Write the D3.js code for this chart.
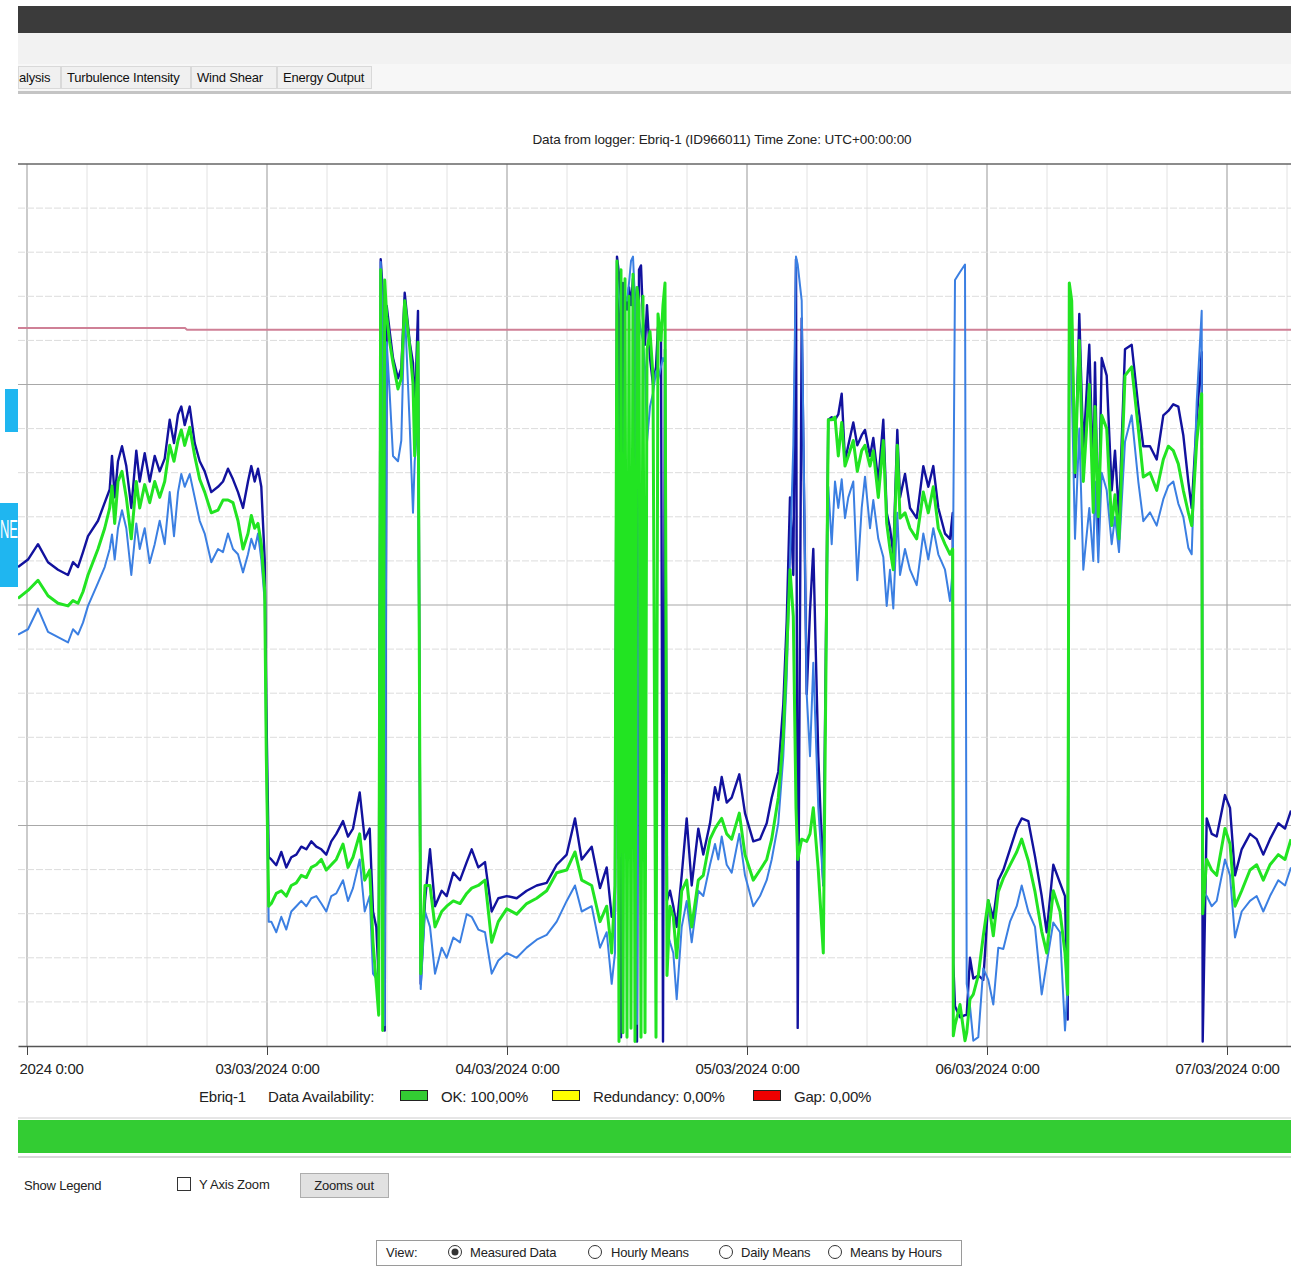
<!DOCTYPE html>
<html><head><meta charset="utf-8">
<script src="https://cdn.jsdelivr.net/npm/d3@7"></script>
<style>
html,body{margin:0;padding:0;background:#fff;}
svg{display:block;font-family:"Liberation Sans",Arial,sans-serif;}
</style></head><body>
<svg id="c" width="1291" height="1275"></svg>
<script>
// ---- DATA (hours after 02/03/2024 00:00 UTC, wind speed values) ----
const hours = [
 -0.9,0.1,1.1,2.1,3.1,4.1,4.6,5.1,5.6,6.1,7.1,7.77,8.27,8.5,8.77,9.1,9.5,9.93,10.43,10.93,11.27,11.77,12.27,12.77,13.27,13.77,14.27,14.7,15.1,15.43,15.77,16.27,16.77,17.27,17.77,18.43,19.1,19.6,20.1,20.6,21.1,21.6,22.1,22.43,22.77,23.1,23.43,23.77,23.93,24.17,
 24.43,24.93,25.43,25.93,26.43,26.93,27.43,27.93,28.43,28.93,29.43,29.93,30.43,30.93,31.6,32.1,32.6,33.27,33.77,34.27,34.6,34.93,35.17,35.37,35.57,35.77,35.97,36.27,36.6,37.1,37.43,37.77,38.27,38.6,38.77,39.1,39.37,
 39.8,40.3,40.8,41.47,41.97,42.63,43.3,43.97,44.47,45.13,45.8,46.47,47.13,47.97,48.97,49.97,50.97,51.97,52.97,53.97,54.8,55.47,56.47,57.3,57.97,58.47,58.8,
 59.0,59.2,59.4,59.6,59.8,60.0,60.2,60.4,60.6,60.8,61.0,61.2,61.4,61.6,61.8,62.0,62.3,62.6,62.9,63.1,63.4,63.6,63.8,64.0,
 64.3,64.63,64.97,65.47,65.97,66.47,67.13,67.63,68.3,68.8,69.13,69.47,69.97,70.47,71.23,71.8,72.63,73.3,73.97,74.47,75.13,75.63,75.97,76.3,76.63,76.9,77.07,77.47,77.97,78.3,78.63,79.13,79.63,
 80.13,80.47,80.8,81.13,81.47,81.8,82.13,82.63,83.03,83.47,83.8,84.3,84.63,85.13,85.63,85.97,86.3,86.63,87.03,87.3,87.8,88.3,88.97,89.63,90.13,90.63,91.13,91.8,92.3,92.57,
 92.63,92.8,93.3,93.8,93.97,94.3,94.63,95.13,95.63,96.13,96.63,97.13,97.63,98.3,98.97,99.47,100.13,100.8,101.47,101.97,102.63,103.3,103.8,104.07,104.23,
 104.47,104.8,105.23,105.63,106.23,106.63,106.8,107.13,107.47,107.97,108.47,108.8,109.2,109.8,110.47,111.13,111.63,112.3,112.97,113.63,114.13,114.63,115.13,115.63,116.13,116.47,116.97,117.47,117.57,
 117.97,118.47,118.97,119.8,120.3,120.8,121.47,122.3,122.97,123.63,124.3,125.13,125.8,126.4
];
const speedNavy = [
 10.86,11.03,11.38,10.97,10.8,10.68,10.97,10.86,11.2,11.56,11.91,12.32,12.62,13.38,12.44,13.26,13.6,13.15,12.2,13.5,12.8,13.44,12.8,13.38,13.03,13.32,14.2,13.67,14.32,14.5,14.08,14.5,13.67,13.26,13.03,12.56,12.68,12.8,13.09,12.85,12.56,12.2,12.8,13.15,12.8,13.09,12.68,11.03,7.75,4.28,
 4.23,4.1,4.4,4.05,4.28,4.34,4.52,4.46,4.64,4.52,4.46,4.34,4.64,4.81,5.1,4.75,4.93,5.75,4.69,4.93,3.05,2.7,1.53,17.84,17.14,0.35,16.78,16.2,15.6,15.14,15.37,17.08,15.96,15.49,14.3,16.67,1.41,
 3.29,4.46,3.17,3.52,3.4,3.93,3.76,4.17,4.46,4.05,4.17,3.05,3.35,3.4,3.35,3.52,3.64,3.7,4.11,4.34,5.16,4.23,4.52,3.58,4.05,2.93,3.05,
 17.9,17.5,0.2,17.3,17.0,16.7,17.2,16.8,17.4,17.0,0.1,17.6,17.7,16.5,15.9,16.8,15.6,15.0,15.4,16.3,16.1,0.1,15.8,3.3,
 3.52,3.17,2.7,3.87,5.16,3.64,4.93,4.34,5.05,5.87,5.58,6.1,5.52,5.63,6.16,5.28,4.64,4.69,5.05,5.63,6.22,7.75,9.62,12.44,10.68,17.84,0.41,16.5,7.98,9.86,11.27,6.57,3.64,
 14.2,14.26,14.2,14.32,14.79,13.26,13.62,14.14,13.62,13.85,13.97,13.38,13.79,12.8,14.2,12.09,11.74,11.15,13.97,12.44,12.97,12.2,11.97,13.15,12.68,13.15,12.2,11.62,11.5,12.09,
 1.88,0.9,0.65,0.7,0.7,2.0,1.53,1.6,1.5,3.3,2.9,3.76,3.99,4.46,4.93,5.16,5.1,4.3,3.4,2.58,4.11,3.7,3.4,0.6,17.25,
 16.5,12.9,16.6,13.5,15.9,12.8,15.5,11.5,15.6,15.2,12.6,13.5,12.0,15.8,15.9,14.5,13.6,13.6,13.3,14.3,14.4,14.55,14.5,13.85,12.8,12.2,14.2,15.73,0.1,
 5.16,4.81,4.75,5.69,5.4,3.87,4.46,4.81,4.69,4.34,4.69,5.05,4.93,5.34
];
const speedGreen = [
 10.15,10.33,10.56,10.21,10.04,9.98,10.1,10.04,10.3,10.68,11.27,11.74,12.2,12.7,11.85,12.8,13.03,12.44,11.5,12.8,12.2,12.73,12.32,12.8,12.44,12.8,13.62,13.26,13.73,13.97,13.62,14.03,13.38,12.85,12.56,12.09,12.15,12.38,12.38,12.32,11.91,11.27,11.62,12.03,11.74,11.85,11.38,10.33,6.57,3.17,
 3.23,3.46,3.52,3.4,3.64,3.7,3.87,3.82,4.05,4.11,4.23,3.99,4.11,4.23,4.58,4.05,4.28,4.81,3.76,3.99,2.35,1.41,0.7,17.6,0.35,17.37,16.55,15.96,15.49,14.9,15.14,16.9,15.85,15.02,13.38,15.96,1.64,
 3.64,3.64,2.7,3.05,3.17,3.29,3.23,3.46,3.58,3.64,3.76,2.35,2.82,3.11,2.99,3.23,3.35,3.52,3.93,3.99,4.4,3.76,3.64,2.82,3.17,2.11,3.64,
 17.8,0.1,17.6,0.3,17.4,0.2,17.0,0.4,17.5,0.1,17.2,16.8,0.2,17.0,0.3,15.8,16.2,15.2,0.2,16.6,16.0,16.8,17.3,1.6,
 3.17,2.93,2.0,3.52,3.76,2.7,3.76,3.87,4.69,4.93,5.05,5.16,4.81,4.69,5.28,4.34,3.76,3.99,4.23,4.69,5.63,7.04,8.92,10.8,9.74,5.4,4.23,4.69,4.64,4.81,5.4,3.99,2.11,
 14.2,14.2,14.26,13.38,14.14,13.15,13.38,13.73,13.03,13.5,13.62,13.15,13.5,12.44,13.73,11.85,11.27,10.8,13.62,11.97,12.09,11.74,11.5,12.56,12.09,12.68,11.74,11.38,11.15,11.27,
 0.23,0.47,0.94,0.12,0.3,1.06,1.17,1.6,2.5,3.3,2.5,3.5,3.8,4.1,4.4,4.69,4.2,3.5,2.6,2.11,3.52,3.05,2.11,1.17,17.3,
 16.9,13.0,16.0,12.8,15.0,12.1,14.5,12.0,14.3,14.0,11.8,12.5,11.5,15.2,15.4,14.0,12.9,13.0,12.6,13.3,13.6,13.5,13.2,12.6,12.1,11.8,13.7,14.79,3.0,
 4.23,3.99,3.87,4.93,4.58,3.17,3.52,3.99,4.11,3.76,4.11,4.34,4.23,4.69
];
const speedBlue = [
 9.33,9.45,9.92,9.39,9.27,9.15,9.45,9.33,9.6,9.98,10.5,10.86,11.27,11.6,11.03,11.74,12.15,11.74,10.68,11.85,11.27,11.74,10.95,11.38,11.91,11.38,12.56,11.56,12.56,12.97,12.68,12.97,12.44,11.91,11.62,10.97,11.27,11.2,11.62,11.27,11.15,10.74,11.15,11.5,11.27,11.62,11.03,10.09,6.57,2.82,
 2.82,2.58,2.93,2.64,3.05,3.17,3.29,3.17,3.35,3.4,3.23,3.05,3.4,3.46,3.76,3.29,3.58,4.23,3.05,3.4,1.64,1.53,0.94,17.78,16.55,0.47,15.96,14.79,13.38,13.26,13.73,16.78,14.08,12.09,13.26,14.2,1.29,
 3.05,2.7,1.64,2.23,2.0,2.46,2.35,2.99,2.93,2.64,2.58,1.64,1.94,2.11,2.0,2.23,2.41,2.52,2.82,3.29,3.64,3.05,3.17,2.23,2.58,1.41,2.11,
 17.4,17.0,16.6,0.3,17.0,16.9,17.3,17.8,17.9,16.9,0.5,16.5,16.2,16.0,15.4,13.7,14.5,14.8,15.3,15.1,15.4,15.6,15.5,2.6,
 2.35,2.11,1.06,2.7,3.29,2.35,3.52,3.4,4.11,4.58,4.23,4.75,4.11,3.93,4.81,3.87,3.17,3.4,3.76,4.23,5.05,6.57,8.33,11.03,13.62,17.9,17.72,16.9,7.98,6.57,8.69,5.4,3.64,
 12.68,11.38,12.8,12.2,12.85,11.97,12.44,12.8,10.56,12.2,12.91,11.74,12.38,11.5,11.09,9.98,10.8,9.92,12.09,10.68,11.27,10.8,10.45,11.62,11.03,11.74,11.15,10.8,10.09,10.8,
 12.0,17.37,17.55,17.72,1.41,0.9,0.12,0.2,1.76,1.5,0.94,2.23,2.2,2.82,3.17,3.64,3.05,2.7,1.17,1.88,2.8,2.58,0.35,1.4,17.0,
 15.0,11.5,14.0,10.8,12.2,11.0,12.8,10.97,13.0,12.6,11.38,12.0,11.2,13.7,14.3,12.8,11.9,12.1,11.8,12.4,12.7,12.8,12.3,12.0,11.3,11.15,14.6,16.67,3.5,
 3.4,3.17,3.29,4.23,3.87,2.46,3.05,3.29,3.4,3.05,3.4,3.76,3.64,4.05
];
const refHours = [-0.9, 15.8, 16.0, 126.4];
const refValues = [16.28, 16.28, 16.24, 16.24];
const dayTickLabels = ["2024 0:00", "03/03/2024 0:00", "04/03/2024 0:00", "05/03/2024 0:00", "06/03/2024 0:00", "07/03/2024 0:00"];
const tabLabels = ["alysis", "Turbulence Intensity", "Wind Shear", "Energy Output"];
const titleText = "Data from logger: Ebriq-1 (ID966011) Time Zone: UTC+00:00:00";
const availLabels = ["OK: 100,00%", "Redundancy: 0,00%", "Gap: 0,00%"];
const availColors = ["#33cc33", "#ffff00", "#ee0000"];
const viewOptions = ["Measured Data", "Hourly Means", "Daily Means", "Means by Hours"];

// ---- DRAW ----
const W = 1291, H = 1275;
const svg = d3.select("#c");
const t0 = Date.UTC(2024, 2, 2);
const toDate = h => new Date(t0 + h * 3600000);
const x = d3.scaleUtc().domain([toDate(-0.9), toDate(126.4)]).range([18, 1291]);
const y = d3.scaleLinear().domain([0, 20]).range([1046, 164]);
const L = 18;

// window chrome
svg.append("rect").attr("x", L).attr("y", 6).attr("width", W - L).attr("height", 27).attr("fill", "#3b3b3b");
svg.append("rect").attr("x", L).attr("y", 33).attr("width", W - L).attr("height", 31).attr("fill", "#f2f2f2");
svg.append("rect").attr("x", L).attr("y", 64).attr("width", W - L).attr("height", 27).attr("fill", "#f7f7f7");
svg.append("rect").attr("x", L).attr("y", 91).attr("width", W - L).attr("height", 3).attr("fill", "#c4c4c4");

const tabDefs = [{x0: 18, x1: 60}, {x0: 61, x1: 190}, {x0: 191, x1: 276}, {x0: 277, x1: 371}];
const tabs = svg.append("g");
tabLabels.forEach((t, i) => {
  const d = tabDefs[i];
  tabs.append("rect").attr("x", d.x0 + 0.5).attr("y", 66.5).attr("width", d.x1 - d.x0).attr("height", 22)
    .attr("fill", "#f0f0f0").attr("stroke", "#d9d9d9");
  tabs.append("text").attr("x", i === 0 ? 19 : d.x0 + 6).attr("y", 81.5)
    .attr("font-size", 13).attr("fill", "#111").attr("letter-spacing", -0.2).text(t);
});

// title
svg.append("text").attr("x", 722).attr("y", 144).attr("text-anchor", "middle")
  .attr("font-size", 13.5).attr("fill", "#222").attr("letter-spacing", -0.1).text(titleText);

// grid
const grid = svg.append("g");
const minorX = d3.utcHour.every(6).range(x.domain()[0], x.domain()[1]);
minorX.forEach(d => {
  const major = d.getUTCHours() === 0;
  grid.append("line").attr("x1", x(d)).attr("x2", x(d)).attr("y1", 164).attr("y2", 1046)
    .attr("stroke", major ? "#a8a8a8" : "#e2e2e2").attr("stroke-width", major ? 1.2 : 1);
});
d3.range(1, 20).forEach(v => {
  const major = v % 5 === 0;
  grid.append("line").attr("x1", L).attr("x2", W).attr("y1", y(v)).attr("y2", y(v))
    .attr("stroke", major ? "#a8a8a8" : "#dcdcdc").attr("stroke-width", major ? 1.2 : 1)
    .attr("stroke-dasharray", major ? null : "7,2");
});
svg.append("line").attr("x1", L).attr("x2", W).attr("y1", 164).attr("y2", 164).attr("stroke", "#666").attr("stroke-width", 1.5);

// reference line
const line = (hs, vs) => d3.line().x((d, i) => x(toDate(hs[i]))).y(d => y(d))(vs);
svg.append("path").attr("d", line(refHours, refValues)).attr("fill", "none").attr("stroke", "#cf8096").attr("stroke-width", 2);

// series
svg.append("clipPath").attr("id", "plotclip").append("rect").attr("x", L).attr("y", 160).attr("width", W - L).attr("height", 888);
const plot = svg.append("g").attr("clip-path", "url(#plotclip)");
const n = Math.min(hours.length, speedNavy.length, speedGreen.length, speedBlue.length);
const hs = hours.slice(0, n);
[[speedNavy, "#12129e", 2.4], [speedBlue, "#3b7fe2", 2], [speedGreen, "#22e422", 3]].forEach(([vals, col, w]) => {
  plot.append("path").attr("d", line(hs, vals.slice(0, n))).attr("fill", "none")
    .attr("stroke", col).attr("stroke-width", w).attr("stroke-linejoin", "round");
});

// x axis
const dayTicks = d3.utcDay.every(1).range(toDate(0), toDate(127));
const ax = svg.append("g").attr("transform", "translate(0,1046)")
  .call(d3.axisBottom(x).tickValues(dayTicks).tickFormat((d, i) => dayTickLabels[i]).tickSize(9).tickSizeOuter(0));
ax.select(".domain").attr("stroke", "#555").attr("stroke-width", 1.5);
ax.selectAll(".tick line").attr("stroke", "#444");
ax.selectAll(".tick text").attr("font-size", 15).attr("fill", "#222").attr("font-family", "Liberation Sans, Arial, sans-serif")
  .attr("letter-spacing", -0.3).attr("dy", "1.05em");
ax.selectAll(".tick text").filter((d, i) => i === 0).attr("text-anchor", "start").attr("x", L - x(dayTicks[0]) + 1);

// availability legend
const lg = svg.append("g").attr("font-size", 15).attr("fill", "#222");
lg.append("text").attr("x", 199).attr("y", 1102).attr("letter-spacing", -0.2).text("Ebriq-1");
lg.append("text").attr("x", 268).attr("y", 1102).attr("letter-spacing", -0.2).text("Data Availability:");
const boxX = [400, 552, 753], txtX = [441, 593, 794];
availLabels.forEach((t, i) => {
  lg.append("rect").attr("x", boxX[i] + 0.5).attr("y", 1090.5).attr("width", 27).attr("height", 10)
    .attr("fill", availColors[i]).attr("stroke", "#222");
  lg.append("text").attr("x", txtX[i]).attr("y", 1102).attr("letter-spacing", -0.2).text(t);
});
svg.append("rect").attr("x", L).attr("y", 1117).attr("width", W - L).attr("height", 2).attr("fill", "#e6e6e6");
svg.append("rect").attr("x", L).attr("y", 1120).attr("width", W - L).attr("height", 33).attr("fill", "#33cc33");
svg.append("rect").attr("x", L).attr("y", 1156).attr("width", W - L).attr("height", 2).attr("fill", "#d8d8d8");

// controls
const ctl = svg.append("g").attr("font-size", 13).attr("fill", "#222");
ctl.append("text").attr("x", 24).attr("y", 1190).attr("letter-spacing", -0.2).text("Show Legend");
ctl.append("rect").attr("x", 177.5).attr("y", 1177.5).attr("width", 13).attr("height", 13).attr("fill", "#fff").attr("stroke", "#333");
ctl.append("text").attr("x", 199).attr("y", 1189).attr("letter-spacing", -0.2).text("Y Axis Zoom");
ctl.append("rect").attr("x", 300.5).attr("y", 1173.5).attr("width", 88).attr("height", 24).attr("fill", "#e1e1e1").attr("stroke", "#adadad");
ctl.append("text").attr("x", 344).attr("y", 1190).attr("text-anchor", "middle").attr("letter-spacing", -0.2).text("Zooms out");

ctl.append("rect").attr("x", 376.5).attr("y", 1240.5).attr("width", 585).attr("height", 25).attr("fill", "#fff").attr("stroke", "#9a9a9a");
ctl.append("text").attr("x", 386).attr("y", 1257).text("View:");
const radioX = [455, 595, 726, 835], radioTx = [470, 611, 741, 850];
viewOptions.forEach((t, i) => {
  ctl.append("circle").attr("cx", radioX[i]).attr("cy", 1252).attr("r", 6.5).attr("fill", "#fff").attr("stroke", "#333");
  if (i === 0) ctl.append("circle").attr("cx", radioX[i]).attr("cy", 1252).attr("r", 3.5).attr("fill", "#333");
  ctl.append("text").attr("x", radioTx[i]).attr("y", 1257).attr("letter-spacing", -0.2).text(t);
});

// left-edge overlay widget (partially visible)
svg.append("clipPath").attr("id", "edgeclip").append("rect").attr("x", 0).attr("y", 380).attr("width", 18).attr("height", 220);
const edge = svg.append("g").attr("clip-path", "url(#edgeclip)");
edge.append("rect").attr("x", 5).attr("y", 389).attr("width", 13).attr("height", 43).attr("fill", "#1fb6f0");
edge.append("rect").attr("x", 0).attr("y", 503).attr("width", 18).attr("height", 84).attr("fill", "#1fb6f0");
edge.append("text").attr("x", 0).attr("y", 538).attr("font-size", 26).attr("fill", "#fff")
  .attr("textLength", 18).attr("lengthAdjust", "spacingAndGlyphs").text("NE");
</script>
</body></html>
